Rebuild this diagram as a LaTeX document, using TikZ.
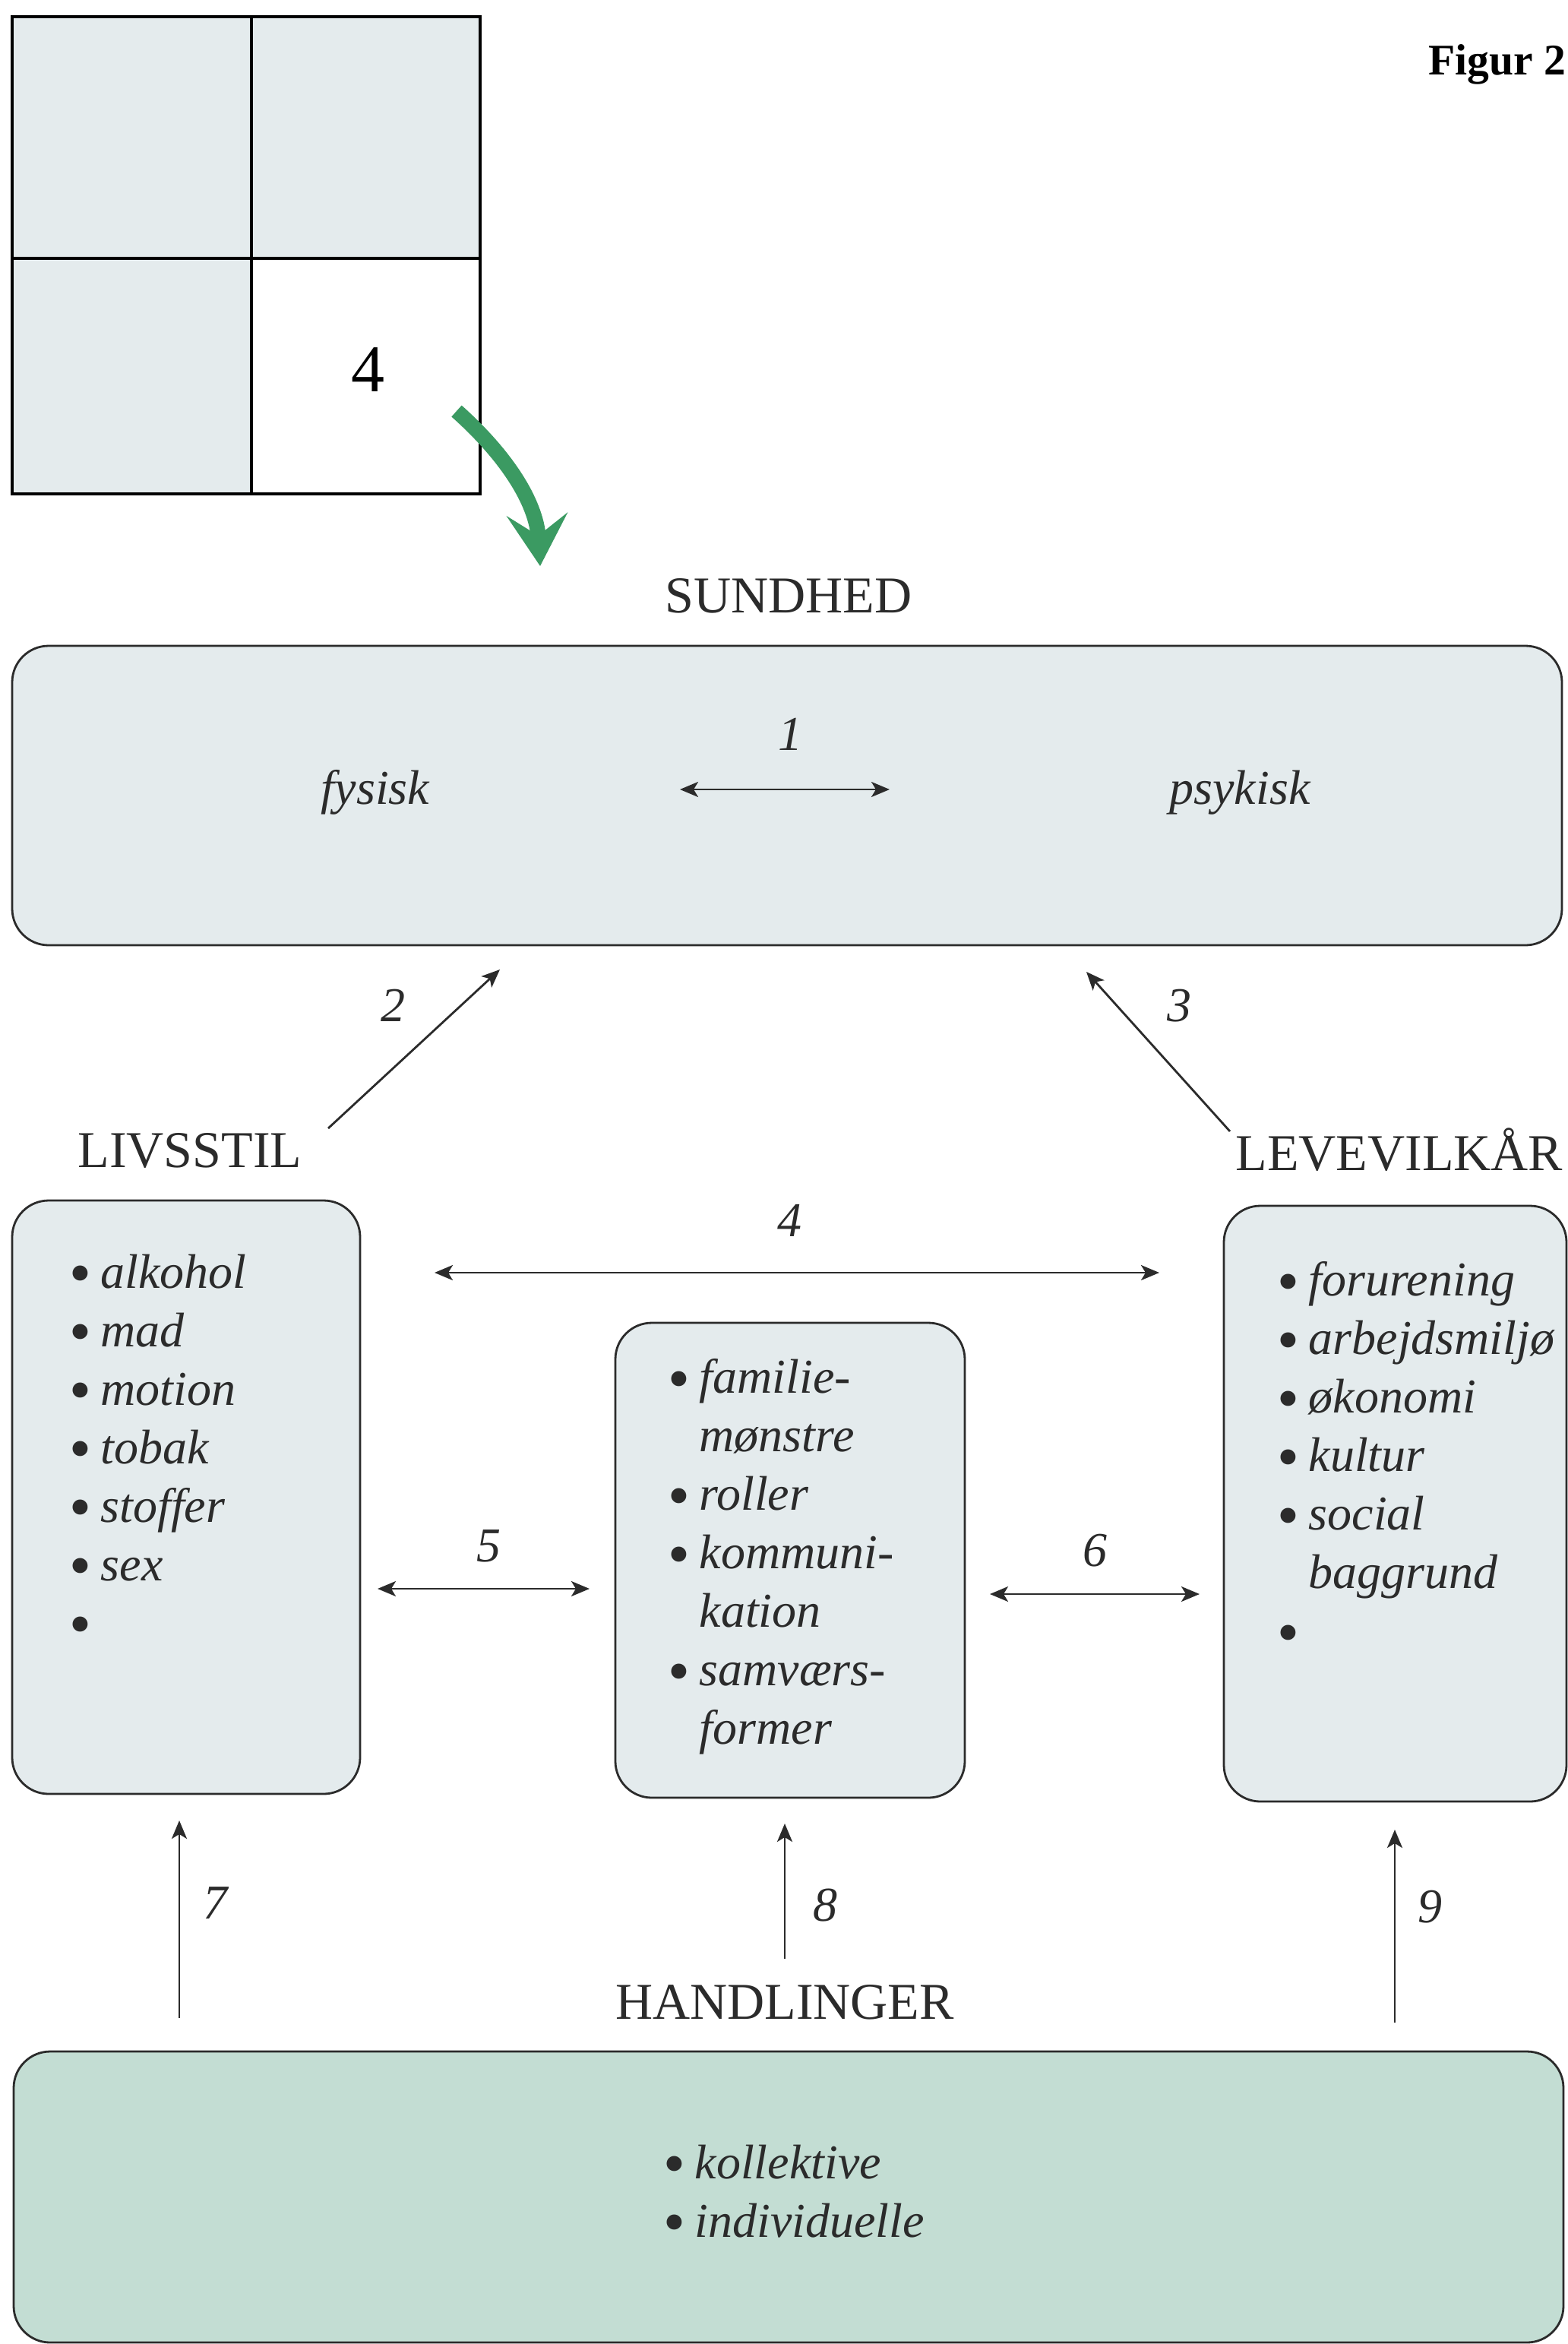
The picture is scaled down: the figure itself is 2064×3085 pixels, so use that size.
\documentclass[tikz,border=0pt]{standalone}
\usepackage{fontspec}
\setmainfont{Liberation Serif}
\usetikzlibrary{arrows.meta}

\definecolor{boxgray}{HTML}{E4EBED}
\definecolor{boxgreen}{HTML}{C3DDD3}
\definecolor{arrowgreen}{HTML}{3B9A62}
\definecolor{inkgray}{HTML}{2B2B2B}

\newcommand{\itembul}{\raisebox{-0.13em}{\scalebox{1.3}{\textbullet}}\hspace{0.2em}}
\newcommand{\itemgap}{\hphantom{\itembul}}

\tikzset{
  panel/.style={draw=inkgray, line width=0.7pt, fill=boxgray, rounded corners=12pt},
  heading/.style={font=\fontsize{17}{20}\selectfont, text=inkgray, inner sep=0pt, anchor=base},
  itemlist/.style={font=\fontsize{16}{19.25}\selectfont\itshape, text=inkgray, align=left, inner sep=0pt, anchor=north west},
  numlabel/.style={font=\fontsize{16}{19}\selectfont\itshape, text=inkgray, inner sep=0pt},
  oneway/.style={draw=inkgray, line width=0.7pt, -{Stealth[length=6pt, width=5pt, inset=1.5pt]}},
  twoway/.style={draw=inkgray, line width=0.7pt, {Stealth[length=6pt, width=5pt, inset=1.5pt]}-{Stealth[length=6pt, width=5pt, inset=1.5pt]}}
}

\begin{document}
\begin{tikzpicture}[x=0.25pt, y=-0.25pt]
  % Drawing parameters
  \pgfmathsetmacro{\gleft}{16}
  \pgfmathsetmacro{\gright}{632}
  \pgfmathsetmacro{\gtop}{22}
  \pgfmathsetmacro{\gbot}{650}
  \pgfmathsetmacro{\gmidx}{331}
  \pgfmathsetmacro{\gmidy}{340}

  \useasboundingbox (0,0) rectangle (2064,3085);

  % key square
  \fill[boxgray] (\gleft,\gtop) rectangle (\gright,\gmidy);
  \fill[boxgray] (\gleft,\gmidy) rectangle (\gmidx,\gbot);
  \draw[line width=1pt] (\gleft,\gtop) rectangle (\gright,\gbot);
  \draw[line width=1pt] (\gmidx,\gtop) -- (\gmidx,\gbot);
  \draw[line width=1pt] (\gleft,\gmidy) -- (\gright,\gmidy);
  \node[font=\fontsize{22}{24}\selectfont, inner sep=0pt] (cell) at (484,487) {4};
  \draw[arrowgreen, line width=5pt, -{Stealth[length=17pt, width=20pt, inset=7pt]}]
    (601,541) .. controls (665,598) and (706,660) .. (711,745);

  \node[font=\fontsize{14.4}{16}\selectfont\bfseries, inner sep=0pt, anchor=base east] (fig) at (2062,98) {Figur 2};

  % boxes
  \draw[panel] (16,850) rectangle (2056,1244);
  \draw[panel] (16,1580) rectangle (474,2361);
  \draw[panel] (810,1741) rectangle (1270,2366);
  \draw[panel] (1611,1587) rectangle (2062,2371);
  \draw[panel, fill=boxgreen] (18,2700) rectangle (2058,3083);

  % headings
  \node[heading] (sundhed) at (1038,806) {SUNDHED};
  \node[heading] (livsstil) at (250,1536) {LIVSSTIL};
  \node[heading] (levevilkar) at (1842,1540) {LEVEVILKÅR};
  \node[heading] (handlinger) at (1033,2657) {HANDLINGER};

  \node[numlabel, anchor=base] (fysisk) at (494,1058) {fysisk};
  \node[numlabel, anchor=base] (psykisk) at (1632,1058) {psykisk};

  % lists
  \node[itemlist] (livlist) at (90,1650) {\itembul alkohol\\ \itembul mad\\ \itembul motion\\ \itembul tobak\\ \itembul stoffer\\ \itembul sex\\ \itembul};
  \node[itemlist] (famlist) at (878,1788) {\itembul familie-\\ \itemgap mønstre\\ \itembul roller\\ \itembul kommuni-\\ \itemgap kation\\ \itembul samværs-\\ \itemgap former};
  \node[itemlist] (levlist) at (1680,1660) {\itembul forurening\\ \itembul arbejdsmiljø\\ \itembul økonomi\\ \itembul kultur\\ \itembul social\\ \itemgap baggrund\\ \itembul};
  \node[itemlist] (handlist) at (872,2822) {\itembul kollektive\\ \itembul individuelle};

  % connector ends
  \coordinate (a1l) at (895,1039);   \coordinate (a1r) at (1171,1039);
  \coordinate (a2s) at (432,1485);   \coordinate (a2e) at (658,1276);
  \coordinate (a3s) at (1619,1489);  \coordinate (a3e) at (1430,1279);
  \coordinate (a4l) at (572,1675);   \coordinate (a4r) at (1526,1675);
  \coordinate (a5l) at (497,2091);   \coordinate (a5r) at (776,2091);
  \coordinate (a6l) at (1303,2098);  \coordinate (a6r) at (1579,2098);
  \coordinate (a7s) at (236,2656);   \coordinate (a7e) at (236,2396);
  \coordinate (a8s) at (1033,2578);  \coordinate (a8e) at (1033,2400);
  \coordinate (a9s) at (1836,2662);  \coordinate (a9e) at (1836,2408);

  \draw[twoway] (a1l) -- (a1r);
  \draw[oneway] (a2s) -- (a2e);
  \draw[oneway] (a3s) -- (a3e);
  \draw[twoway] (a4l) -- (a4r);
  \draw[twoway] (a5l) -- (a5r);
  \draw[twoway] (a6l) -- (a6r);
  \draw[oneway] (a7s) -- (a7e);
  \draw[oneway] (a8s) -- (a8e);
  \draw[oneway] (a9s) -- (a9e);

  % numbers
  \node[numlabel] (n1) at (1040,966) {1};
  \node[numlabel] (n2) at (517,1323) {2};
  \node[numlabel] (n3) at (1552,1324) {3};
  \node[numlabel] (n4) at (1039,1606) {4};
  \node[numlabel] (n5) at (643,2035) {5};
  \node[numlabel] (n6) at (1441,2041) {6};
  \node[numlabel] (n7) at (283,2505) {7};
  \node[numlabel] (n8) at (1086,2508) {8};
  \node[numlabel] (n9) at (1882,2510) {9};
\end{tikzpicture}
\end{document}
